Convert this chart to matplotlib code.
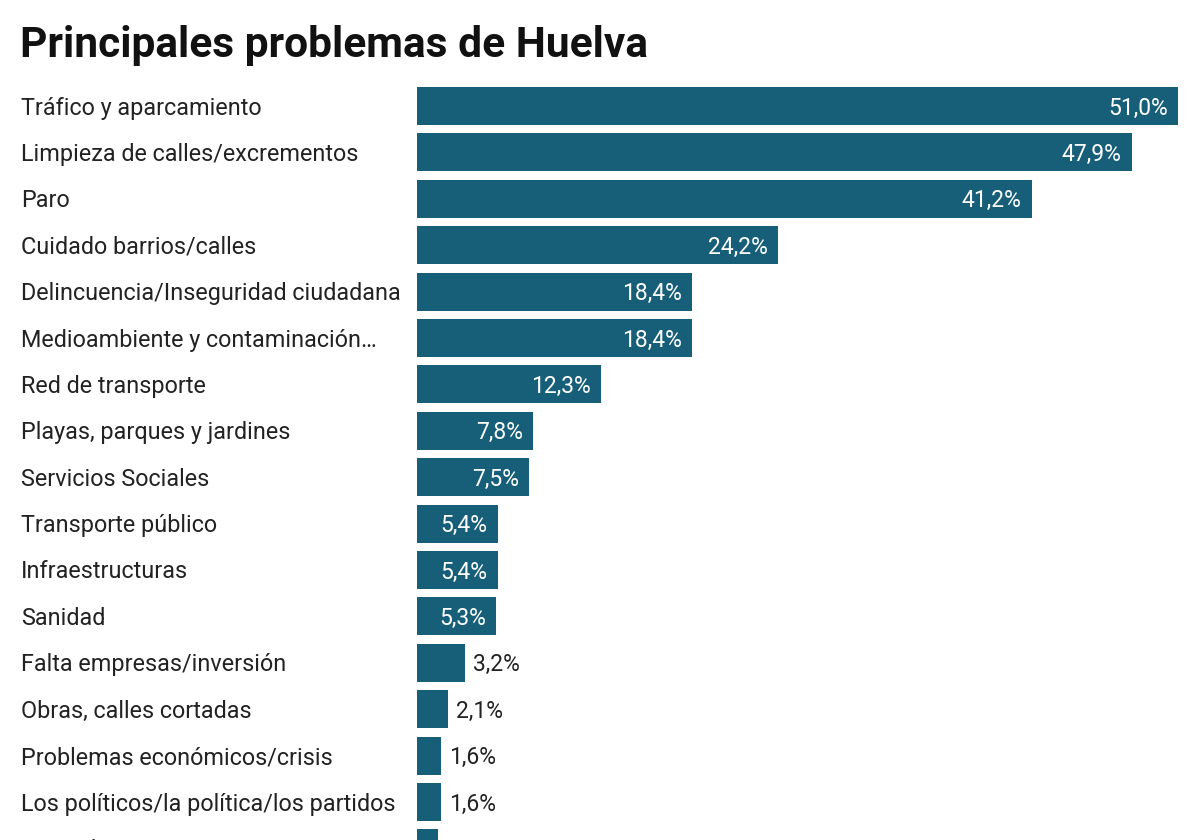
import matplotlib.pyplot as plt

plt.rcParams['font.family'] = ['Roboto', 'DejaVu Sans']

problemas = ['Tráfico y aparcamiento', 'Limpieza de calles/excrementos', 'Paro',
             'Cuidado barrios/calles', 'Delincuencia/Inseguridad ciudadana',
             'Medioambiente y contaminación…', 'Red de transporte',
             'Playas, parques y jardines', 'Servicios Sociales', 'Transporte público',
             'Infraestructuras', 'Sanidad', 'Falta empresas/inversión',
             'Obras, calles cortadas', 'Problemas económicos/crisis',
             'Los políticos/la política/los partidos', 'Vivienda']
porcentajes = [51.0, 47.9, 41.2, 24.2, 18.4, 18.4, 12.3, 7.8, 7.5, 5.4, 5.4, 5.3,
               3.2, 2.1, 1.6, 1.6, 1.4]

azul = '#175f78'

fig = plt.figure(figsize=(12, 8.4), dpi=100)
ax = fig.add_axes([417 / 1200, 0, (1178 - 417) / 1200, 1])

pos = list(range(len(problemas)))
ax.barh(pos, porcentajes, height=0.82, color=azul)
ax.set_xlim(0, 51.0)
ax.set_ylim((840 - 106) / 46.4, -106 / 46.4)
ax.axis('off')

for i, (p, v) in enumerate(zip(problemas, porcentajes)):
    txt = f'{v:.1f}%'.replace('.', ',')
    if v >= 5:
        ax.annotate(txt, (v, i), xytext=(-10, -2), textcoords='offset pixels',
                    ha='right', va='center', color='white', fontsize=16.5)
    else:
        ax.annotate(txt, (v, i), xytext=(8, -2), textcoords='offset pixels',
                    ha='left', va='center', color='#222222', fontsize=16.5)
    ax.annotate(p, (0, i), xycoords=('figure pixels', 'data'), xytext=(21, -2),
                textcoords='offset pixels', ha='left', va='center',
                color='#222222', fontsize=16.8)

fig.text(20 / 1200, 1 - 45 / 840, 'Principales problemas de Huelva',
         fontsize=30.6, fontweight='bold', ha='left', va='center', color='#111111')

fig.savefig('out.png', dpi=100)
